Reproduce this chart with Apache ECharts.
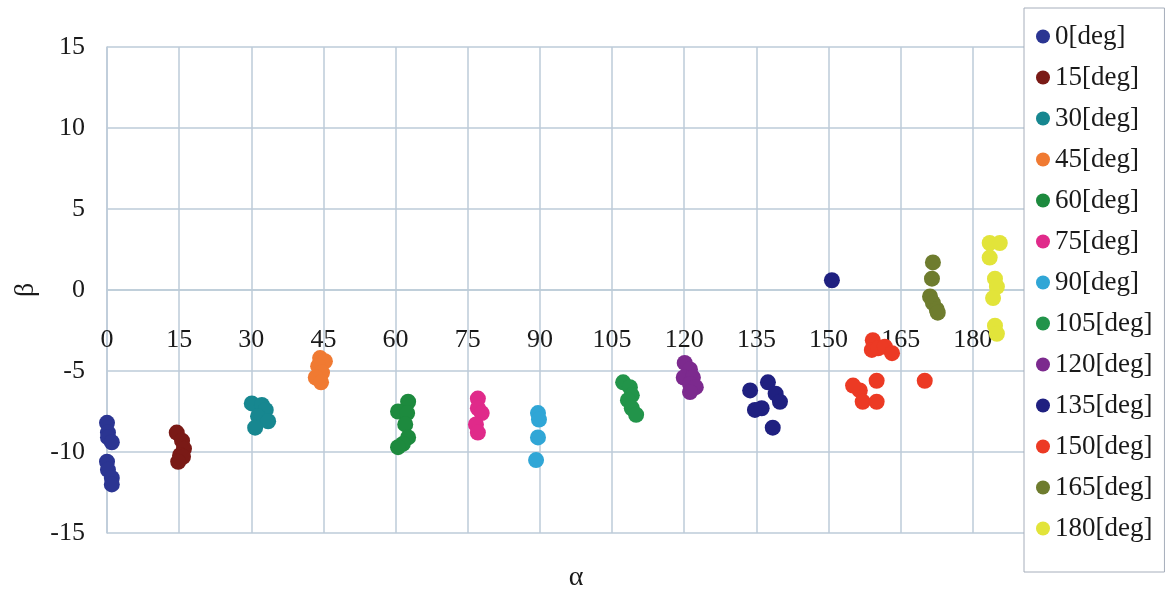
<!DOCTYPE html>
<html>
<head>
<meta charset="utf-8">
<script src="https://cdn.jsdelivr.net/npm/echarts@6/dist/echarts.min.js"></script>
<style>
  html, body { margin: 0; padding: 0; background: #fff; }
  #chart { width: 1169px; height: 597px; }
</style>
</head>
<body>
<div id="chart"></div>
<script>
// legend labels
const names = ['0[deg]', '15[deg]', '30[deg]', '45[deg]', '60[deg]', '75[deg]', '90[deg]',
  '105[deg]', '120[deg]', '135[deg]', '150[deg]', '165[deg]', '180[deg]'];

// [alpha, beta] pairs per series
const deg0 = [[0, -8.2], [0.2, -8.8], [0.2, -9.1], [1.0, -9.4], [0, -10.6], [0.2, -11.1], [1.0, -11.6], [1.0, -12.0]];
const deg15 = [[14.5, -8.8], [15.6, -9.3], [16.0, -9.8], [15.2, -10.2], [15.8, -10.3], [14.8, -10.6]];
const deg30 = [[30.1, -7.0], [32.2, -7.1], [33.0, -7.4], [31.4, -7.8], [33.5, -8.1], [30.8, -8.5]];
const deg45 = [[44.3, -4.2], [45.3, -4.4], [43.9, -4.7], [44.7, -5.1], [43.4, -5.4], [44.5, -5.7]];
const deg60 = [[62.6, -6.9], [60.5, -7.5], [62.4, -7.6], [62.0, -8.3], [62.6, -9.1], [61.5, -9.5], [60.5, -9.7]];
const deg75 = [[77.1, -6.7], [77.1, -7.3], [77.9, -7.6], [76.7, -8.3], [77.1, -8.8]];
const deg90 = [[89.6, -7.6], [89.8, -8.0], [89.6, -9.1], [89.2, -10.5]];
const deg105 = [[107.3, -5.7], [108.7, -6.0], [109.1, -6.5], [108.3, -6.8], [109.1, -7.3], [110.0, -7.7]];
const deg120 = [[120.1, -4.5], [121.2, -4.9], [119.9, -5.4], [121.8, -5.4], [121.2, -5.8], [122.4, -6.0], [121.2, -6.3]];
const deg135 = [[150.7, 0.6], [133.7, -6.2], [137.4, -5.7], [139.0, -6.4], [139.9, -6.9], [134.7, -7.4], [136.1, -7.3], [138.4, -8.5]];
const deg150 = [[159.2, -3.1], [159.0, -3.7], [160.3, -3.6], [161.7, -3.5], [163.2, -3.9],
  [156.5, -6.2], [155.1, -5.9], [160.0, -5.6], [157.1, -6.9], [160.0, -6.9], [170.0, -5.6]];
const deg165 = [[171.7, 1.7], [171.5, 0.7], [171.1, -0.4], [171.7, -0.8], [172.5, -1.2], [172.7, -1.4]];
const deg180 = [[183.5, 2.9], [185.6, 2.9], [183.5, 2.0], [184.6, 0.7], [185.0, 0.2], [184.2, -0.5], [184.6, -2.2], [185.0, -2.7]];

const points = [deg0, deg15, deg30, deg45, deg60, deg75, deg90, deg105, deg120, deg135, deg150, deg165, deg180];

const colors = ['#2b3592', '#7a1a16', '#178790', '#f07a32', '#1d8a3e', '#e02a8a', '#30a6d6',
  '#22944a', '#7c2a8e', '#1f2080', '#ec3a24', '#6e7c2e', '#e2e43a'];

const gridColor = '#bccbd8';
const font = '"Liberation Serif", "Times New Roman", serif';

const chart = echarts.init(document.getElementById('chart'));

const option = {
  backgroundColor: '#fff',
  animation: false,
  color: colors,
  textStyle: { fontFamily: font, color: '#1a1a1a' },
  grid: { left: 107, top: 47, right: 124, bottom: 64, outerBoundsMode: 'none', containLabel: false },
  legend: {
    orient: 'vertical',
    left: 1024,
    top: 8,
    padding: [15, 12, 30, 12],
    backgroundColor: '#fff',
    borderColor: '#a6aebb',
    borderWidth: 1,
    icon: 'circle',
    itemWidth: 14,
    itemHeight: 14,
    itemGap: 14,
    textStyle: { fontFamily: font, fontSize: 27, lineHeight: 27, color: '#1a1a1a' },
    data: names,
    z: 10
  },
  xAxis: {
    type: 'value',
    min: 0,
    max: 195,
    interval: 15,
    position: 'bottom',
    // axis sits on beta = 0, like the original (-15..15 over 486px)
    offset: -243,
    name: 'α',
    nameLocation: 'middle',
    nameGap: 274,
    nameTextStyle: { fontFamily: font, fontSize: 28, color: '#1a1a1a' },
    axisLine: { onZero: false, lineStyle: { color: gridColor, width: 1.5 } },
    axisTick: { show: false },
    axisLabel: {
      margin: 37,
      fontSize: 26,
      color: '#1a1a1a',
      fontFamily: font,
      formatter: v => (v <= 180 ? String(v) : '')
    },
    splitLine: { show: true, lineStyle: { color: gridColor, width: 1.5 } }
  },
  yAxis: {
    type: 'value',
    min: -15,
    max: 15,
    interval: 5,
    name: 'β',
    nameLocation: 'middle',
    nameGap: 66,
    nameRotate: 90,
    nameTextStyle: { fontFamily: font, fontSize: 28, color: '#1a1a1a' },
    axisLine: { show: true, lineStyle: { color: gridColor, width: 1.5 } },
    axisTick: { show: false },
    axisLabel: { margin: 22, fontSize: 26, color: '#1a1a1a', fontFamily: font },
    splitLine: { show: true, lineStyle: { color: gridColor, width: 1.5 } }
  },
  series: names.map((n, i) => ({
    name: n,
    type: 'scatter',
    symbol: 'circle',
    symbolSize: 16,
    data: points[i],
    itemStyle: { color: colors[i], opacity: 1 }
  }))
};

chart.setOption(option);
</script>
</body>
</html>
